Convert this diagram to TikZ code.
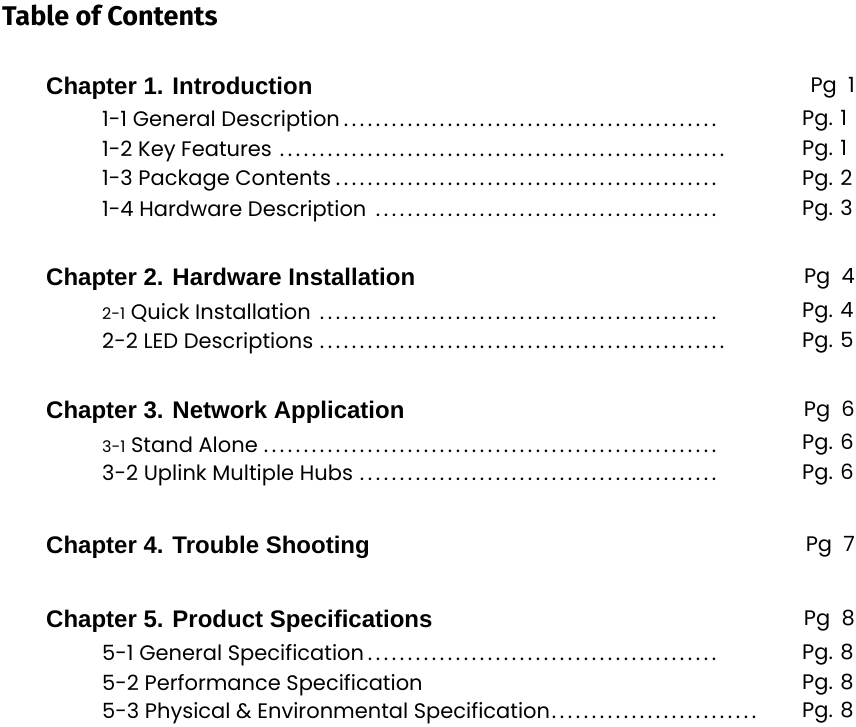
\documentclass[tikz,border=0pt]{standalone}
\usepackage{fontspec}
\setmainfont{Poppins}
\newfontfamily\chapfont{Liberation Sans}
\newfontfamily\titlefont{Fira Sans}
\newcommand{\mydots}{\leaders\hbox to 8pt{\hss.\hss}\hfill}
\begin{document}
\begin{tikzpicture}[x=1pt,y=-1pt,
  item/.style={anchor=west,inner sep=0pt,font=\fontsize{21}{24}\selectfont},
  chap/.style={anchor=west,inner sep=0pt,font=\chapfont\bfseries\fontsize{24}{27}\selectfont},
  pg/.style={anchor=west,inner sep=0pt,font=\fontsize{21}{24}\selectfont}]
\useasboundingbox (0,0) rectangle (856,726);
\node[anchor=west,inner sep=0pt,font=\titlefont\bfseries\fontsize{27}{30}\selectfont] (title) at (2,15) {Table of Contents};
\newcommand{\tocitem}[5]{\node[item] (#1) at (102,#2) {\makebox[\dimexpr#3pt-102pt\relax][l]{#4\mydots}};
  \node[pg] (#1p) at (802,#2) {#5};}
\newcommand{\tocchap}[4]{\node[chap] (#1) at (46,#2) {#3};
  \node[pg,anchor=east] (#1p) at (855,#2) {#4};}
\tocchap{c1}{88}{Chapter 1. Introduction}{Pg\ \ 1}
\tocitem{i11}{121}{722}{1-1 General Description}{Pg. 1}
\tocitem{i12}{151}{732}{1-2 Key Features}{Pg. 1}
\tocitem{i13}{181}{722}{1-3 Package Contents}{Pg. 2}
\tocitem{i14}{211}{722}{1-4 Hardware Description}{Pg. 3}
\tocchap{c2}{279}{Chapter 2. Hardware Installation}{Pg\ \ 4}
\tocitem{i21}{313}{724}{{\fontsize{16}{18}\selectfont 2-1} Quick Installation}{Pg. 4}
\tocitem{i22}{343}{730}{2-2 LED Descriptions}{Pg. 5}
\tocchap{c3}{412}{Chapter 3. Network Application}{Pg\ \ 6}
\tocitem{i31}{445}{722}{{\fontsize{16}{18}\selectfont 3-1} Stand Alone}{Pg. 6}
\tocitem{i32}{475}{718}{3-2 Uplink Multiple Hubs}{Pg. 6}
\tocchap{c4}{547}{Chapter 4. Trouble Shooting}{Pg\ \ 7}
\tocchap{c5}{621}{Chapter 5. Product Specifications}{Pg\ \ 8}
\tocitem{i51}{655}{724}{5-1 General Specification}{Pg. 8}
\node[item] (i52) at (102,685) {5-2 Performance Specification};
\node[pg] (i52p) at (802,685) {Pg. 8};
\tocitem{i53}{713}{758}{5-3 Physical \& Environmental Specification}{Pg. 8}
\end{tikzpicture}
\end{document}
